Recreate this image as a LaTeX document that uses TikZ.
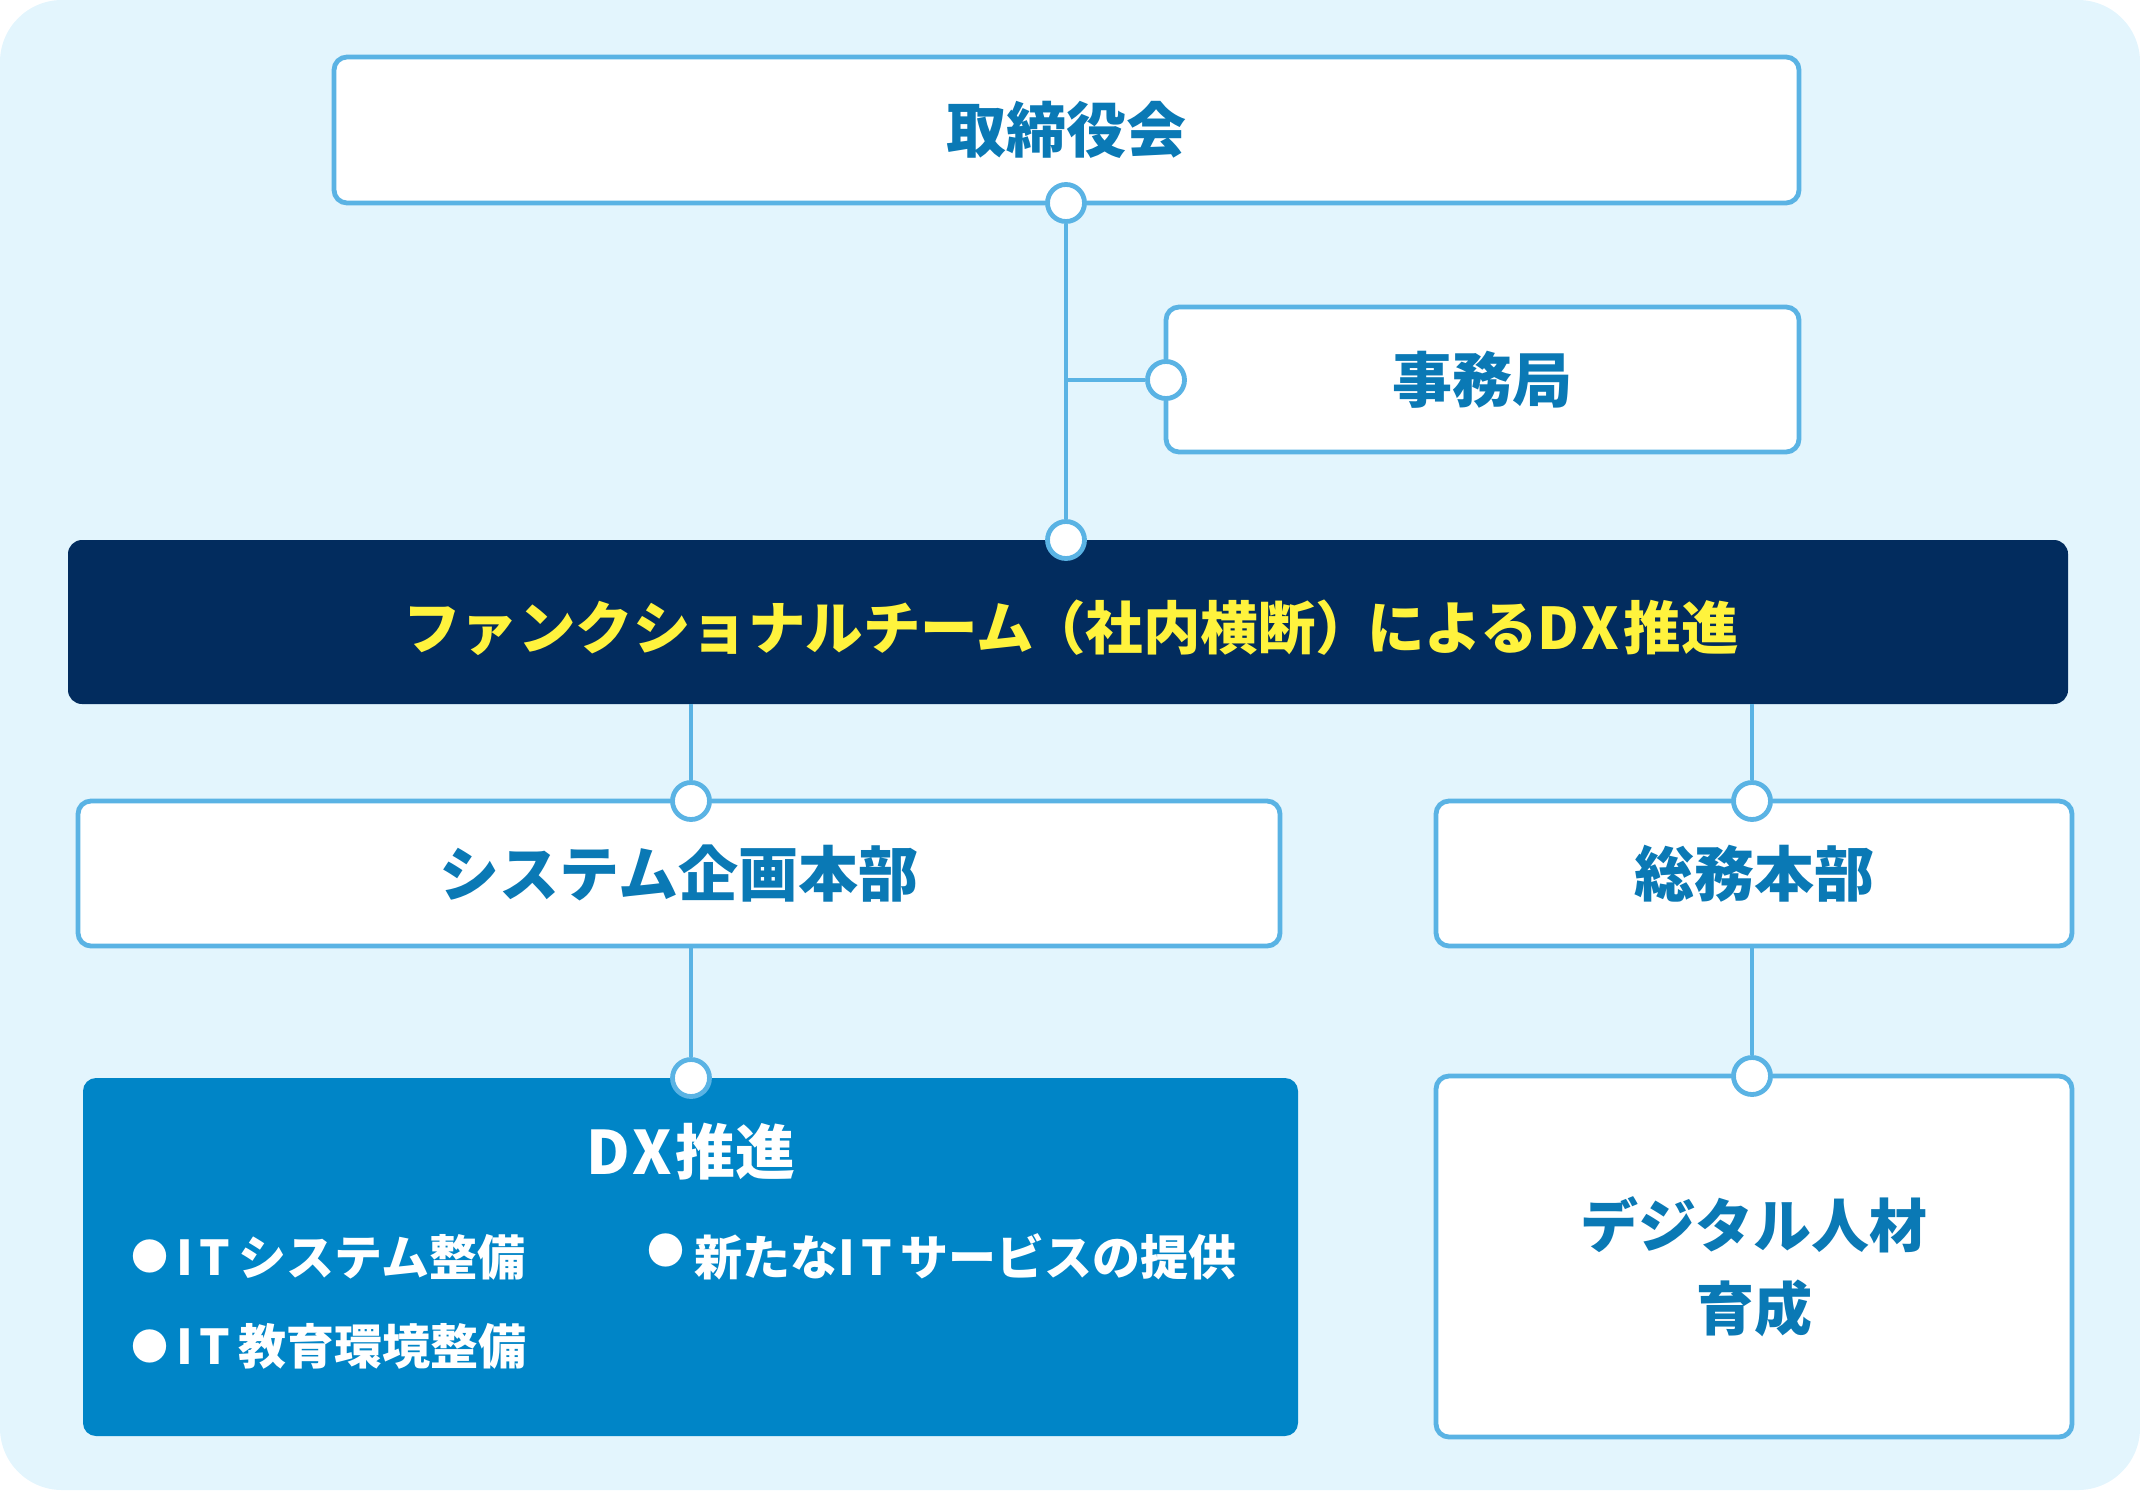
\documentclass[tikz,border=0pt]{standalone}
\usepackage{fontspec}
\newfontfamily\jp{Noto Sans CJK JP}
\definecolor{bgblue}{HTML}{E3F5FD}
\definecolor{lineblue}{HTML}{5AB3E4}
\definecolor{tblue}{HTML}{0A79B5}
\definecolor{navy}{HTML}{022C5E}
\definecolor{yel}{HTML}{FFF33D}
\definecolor{dxblue}{HTML}{0085C7}
\begin{document}
\begin{tikzpicture}[x=1pt,y=-1pt,
  wbox/.style={draw=lineblue, line width=4.8pt, fill=white, rounded corners=13pt, text=tblue,
    font=\jp\bfseries\fontsize{60}{83}\selectfont, inner sep=0pt, align=center},
  dot/.style={circle, draw=lineblue, line width=4.8pt, fill=white, minimum size=37pt, inner sep=0pt},
  conn/.style={draw=lineblue, line width=4.8pt},
  btxt/.style={text=white, font=\jp\bfseries\fontsize{48}{56}\selectfont, inner sep=0pt, anchor=west},
  bdot/.style={text=white, font=\jp\fontsize{37}{40}\selectfont, inner sep=0pt}]
\useasboundingbox (0,0) rectangle (2140,1490);
\fill[bgblue, rounded corners=62pt] (0,0) rectangle (2140,1490);

% boxes
\node[wbox, minimum width=1465pt, minimum height=146pt] (board) at (1066.5,130) {取締役会};
\node[wbox, minimum width=633pt, minimum height=145pt] (office) at (1482.5,379.5) {事務局};
\node[fill=navy, rounded corners=14pt, minimum width=2000pt, minimum height=164pt, inner sep=0pt] (main) at (1068,622) {};
\node[text=yel, font=\jp\bfseries\fontsize{57.5}{70}\selectfont, inner sep=0pt] (mtxt) at (1071,628)
  {ファンクショナルチーム\kern-6pt（社内横断）\kern-6pt によるD\kern2pt X\kern4pt 推進};
\node[wbox, minimum width=1202pt, minimum height=145pt] (sys) at (679,873.5) {システム企画本部};
\node[wbox, minimum width=636pt, minimum height=145pt] (gen) at (1754,873.5) {総務本部};
\node[fill=dxblue, rounded corners=13pt, minimum width=1215pt, minimum height=358pt, inner sep=0pt] (dx) at (690.5,1257) {};
\node[wbox, minimum width=636pt, minimum height=361pt] (talent) at (1754,1256.5) {};
\node[text=tblue, font=\jp\bfseries\fontsize{58}{83}\selectfont, align=center, inner sep=0pt] (tt) at (1754,1267) {デジタル人材\\育成};

% texts in DX box
\node[text=white, font=\jp\bfseries\fontsize{60}{70}\selectfont, inner sep=0pt] (dxt) at (691,1152) {D\kern2pt X\kern4pt 推進};
\node[bdot] (b1) at (150,1256) {●};
\node[btxt] (i1) at (176,1257) {I\kern7pt T\kern8pt システム整備};
\node[bdot] (b2) at (666,1250) {●};
\node[btxt] (i2) at (694,1257) {新たなI\kern7pt T\kern8pt サービスの提供};
\node[bdot] (b3) at (150,1346) {●};
\node[btxt] (i3) at (176,1346) {I\kern7pt T\kern8pt 教育環境整備};

% connector dots
\node[dot] (c1) at (1066,203) {};
\node[dot] (c2) at (1066,540) {};
\node[dot] (c3) at (1166,380) {};
\node[dot] (c4) at (691,801) {};
\node[dot] (c5) at (1752,801) {};
\node[dot] (c6) at (691,1078) {};
\node[dot] (c7) at (1752,1076) {};
\coordinate (j1) at (1066,380);

% connectors
\draw[conn] (c1) -- (c2);
\draw[conn] (j1) -- (c3);
\draw[conn] (c4 |- main.south) -- (c4);
\draw[conn] (c5 |- main.south) -- (c5);
\draw[conn] (c6 |- sys.south) -- (c6);
\draw[conn] (c7 |- gen.south) -- (c7);
\end{tikzpicture}
\end{document}
